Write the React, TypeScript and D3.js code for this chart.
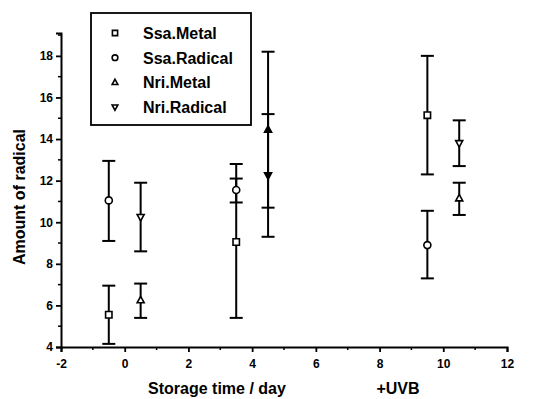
import React, { useRef, useEffect } from "react";
import * as d3 from "d3";

// series: x position, mean, lower error, upper error
const seriesNames = ["Ssa.Metal", "Ssa.Radical", "Nri.Metal", "Nri.Radical"];
const ssaMetal = [
  { x: -0.5, y: 5.55, lo: 4.15, hi: 6.95 },
  { x: 3.5, y: 9.05, lo: 5.4, hi: 12.8 },
  { x: 9.5, y: 15.15, lo: 12.3, hi: 18.0 },
];
const ssaRadical = [
  { x: -0.5, y: 11.05, lo: 9.1, hi: 12.95 },
  { x: 3.5, y: 11.55, lo: 10.95, hi: 12.1 },
  { x: 9.5, y: 8.9, lo: 7.3, hi: 10.55 },
];
const nriMetal = [
  { x: 0.5, y: 6.25, lo: 5.4, hi: 7.05 },
  { x: 4.5, y: 14.45, lo: 10.7, hi: 18.2, filled: true },
  { x: 10.5, y: 11.15, lo: 10.35, hi: 11.9 },
];
const nriRadical = [
  { x: 0.5, y: 10.25, lo: 8.6, hi: 11.9 },
  { x: 4.5, y: 12.25, lo: 9.3, hi: 15.2, filled: true },
  { x: 10.5, y: 13.8, lo: 12.7, hi: 14.9 },
];
const xTicks = [-2, 0, 2, 4, 6, 8, 10, 12];
const yTicks = [4, 6, 8, 10, 12, 14, 16, 18];

const FONT = "'Liberation Sans', Arial, sans-serif";

const symbolPath = (name: string, size: number) => {
  const s = size;
  if (name === "Ssa.Metal") return `M${-s},${-s}H${s}V${s}H${-s}Z`;
  if (name === "Ssa.Radical") return d3.arc()({ innerRadius: 0, outerRadius: s * 1.1, startAngle: 0, endAngle: 2 * Math.PI } as any) || "";
  if (name === "Nri.Metal") return `M0,${-s * 1.2}L${s * 1.1},${s * 0.8}L${-s * 1.1},${s * 0.8}Z`;
  return `M0,${s * 1.2}L${s * 1.1},${-s * 0.8}L${-s * 1.1},${-s * 0.8}Z`;
};

const App = () => {
  const svgRef = useRef<SVGSVGElement>(null);

  useEffect(() => {
    const svg = d3.select(svgRef.current);
    svg.selectAll("*").remove();

    const x = d3.scaleLinear().domain([-2, 12]).range([61, 507]);
    const y = d3.scaleLinear().domain([4, 19.1]).range([347, 33]);

    // axes (plain hyphen for negatives, like the original)
    const fmt = (d: any) => String(d);
    const xAxis = d3.axisBottom(x).tickValues(xTicks).tickSize(5).tickFormat(fmt);
    const yAxis = d3.axisLeft(y).tickValues(yTicks).tickSize(5).tickFormat(fmt);

    const gx = svg.append("g").attr("transform", `translate(0,${y(4)})`).call(xAxis);
    const gy = svg.append("g").attr("transform", `translate(${x(-2)},0)`).call(yAxis);

    // minor ticks
    gx.selectAll(".minor")
      .data(d3.range(-1, 12, 2))
      .enter()
      .append("line")
      .attr("x1", (d) => x(d))
      .attr("x2", (d) => x(d))
      .attr("y1", 0)
      .attr("y2", 3)
      .attr("stroke", "#000")
      .attr("stroke-width", 1.5);
    gy.selectAll(".minor")
      .data(d3.range(5, 20, 2))
      .enter()
      .append("line")
      .attr("y1", (d) => y(d))
      .attr("y2", (d) => y(d))
      .attr("x1", 0)
      .attr("x2", -3)
      .attr("stroke", "#000")
      .attr("stroke-width", 1.5);

    [gx, gy].forEach((g) => {
      g.select(".domain").attr("stroke-width", 2);
      g.selectAll(".tick line").attr("stroke-width", 1.8);
      g.selectAll(".tick text")
        .attr("font-family", FONT)
        .attr("font-size", 12)
        .attr("font-weight", "bold")
        .attr("fill", "#000");
    });
    gx.selectAll(".tick text").attr("dy", "1.1em");

    // error bars + markers
    const all = [
      { name: seriesNames[0], pts: ssaMetal },
      { name: seriesNames[1], pts: ssaRadical },
      { name: seriesNames[2], pts: nriMetal },
      { name: seriesNames[3], pts: nriRadical },
    ];
    const capW = 6.5;
    all.forEach((s) => {
      const g = svg.append("g");
      s.pts.forEach((p: any) => {
        g.append("line")
          .attr("x1", x(p.x)).attr("x2", x(p.x))
          .attr("y1", y(p.lo)).attr("y2", y(p.hi))
          .attr("stroke", "#000").attr("stroke-width", 2);
        [p.lo, p.hi].forEach((v) => {
          g.append("line")
            .attr("x1", x(p.x) - capW).attr("x2", x(p.x) + capW)
            .attr("y1", y(v)).attr("y2", y(v))
            .attr("stroke", "#000").attr("stroke-width", 2);
        });
        g.append("path")
          .attr("d", symbolPath(s.name, 3.2))
          .attr("transform", `translate(${x(p.x)},${y(p.y)})`)
          .attr("fill", p.filled ? "#000" : "#fff")
          .attr("stroke", "#000")
          .attr("stroke-width", 1.6);
      });
    });

    // axis titles
    svg.append("text")
      .attr("x", 217).attr("y", 394)
      .attr("text-anchor", "middle")
      .attr("font-family", FONT).attr("font-size", 16).attr("font-weight", "bold")
      .text("Storage time / day");
    svg.append("text")
      .attr("x", 398).attr("y", 394)
      .attr("text-anchor", "middle")
      .attr("font-family", FONT).attr("font-size", 16).attr("font-weight", "bold")
      .text("+UVB");
    svg.append("text")
      .attr("transform", "translate(25,197) rotate(-90)")
      .attr("text-anchor", "middle")
      .attr("font-family", FONT).attr("font-size", 16).attr("font-weight", "bold")
      .text("Amount of radical");

    // legend
    const lg = svg.append("g");
    lg.append("rect")
      .attr("x", 91).attr("y", 13).attr("width", 160).attr("height", 112)
      .attr("fill", "#fff").attr("stroke", "#000").attr("stroke-width", 1.8);
    seriesNames.forEach((name, i) => {
      const cy = 33 + i * 24.7;
      lg.append("path")
        .attr("d", symbolPath(name, 2.6))
        .attr("transform", `translate(115,${cy})`)
        .attr("fill", "#fff").attr("stroke", "#000").attr("stroke-width", 1.6);
      lg.append("text")
        .attr("x", 143).attr("y", cy + 6)
        .attr("font-family", FONT).attr("font-size", 16).attr("font-weight", "bold")
        .text(name);
    });
  }, []);

  return (
    <svg
      ref={svgRef}
      width={535}
      height={399}
      style={{ position: "absolute", left: 0, top: 0, background: "#fff" }}
    />
  );
};

export default App;
